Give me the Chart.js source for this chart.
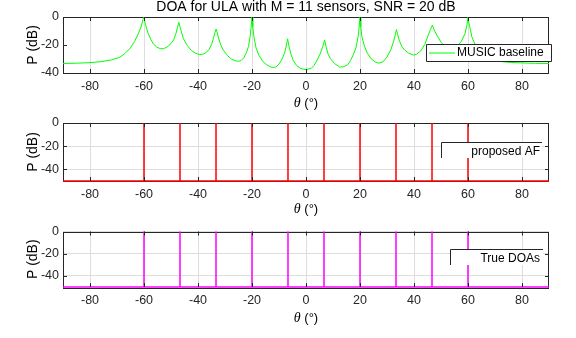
<!DOCTYPE html>
<html>
<head>
<meta charset="utf-8">
<script src="https://cdn.jsdelivr.net/npm/chart.js@4.4.1/dist/chart.umd.min.js"></script>
<style>
  html, body { margin: 0; padding: 0; background: #fff; }
  body { width: 576px; height: 338px; position: relative; overflow: hidden; }
  canvas { position: absolute; left: 0; }
</style>
</head>
<body>
<canvas id="c1" width="576" height="110" style="top:0px"></canvas>
<canvas id="c2" width="576" height="110" style="top:110px"></canvas>
<canvas id="c3" width="576" height="118" style="top:220px"></canvas>
<script>
// ---------------- data ----------------
const chartTitle = "DOA for ULA with M = 11 sensors, SNR = 20 dB";
const xTicks = [-80, -60, -40, -20, 0, 20, 40, 60, 80];
const yTicksMusic = [-40, -20, 0];
const yTicksAF = [-40, -20, 0];

// MUSIC baseline spectrum (angle in degrees, power in dB)
const thetaMusic = [-90,-85,-80,-76,-72,-69,-67,-65,-63.5,-62,-61,-60.4,-60,-59.6,-59,-58.4,-57.5,-56.5,-55.3,-54,-52.8,-51.5,-50,-49,-48.2,-47.6,-47.1,-46.6,-46,-45.4,-44,-42.5,-41,-39.5,-38,-37,-36,-35,-34.2,-33.7,-33.3,-32.9,-32.4,-31.5,-30.5,-29,-27.5,-26,-25,-24,-23,-22,-21.3,-20.7,-20.3,-20,-19.7,-19.3,-18.5,-17.5,-16,-14.5,-13,-12,-11,-10,-9,-8,-7.4,-6.8,-6.3,-5.5,-4.7,-3.5,-2,0,2,3,4,5.2,6.2,6.9,7.4,8.2,9,10.5,12.5,14,15.5,16.5,17.5,18.5,19.3,19.7,20,20.3,20.7,21.5,22.5,24,25.5,27,28.5,30,31.5,32.5,33.1,33.5,33.9,34.5,35.5,36.5,38,39.7,41,42.5,44,45.3,46.1,46.8,47.4,48.4,50,51.5,53,54.5,56,57.5,58.9,59.6,60,60.4,61,61.4,62.6,64,66,68,70,73,76,80,85,90];
const pMusic = [-33.2,-33.0,-32.6,-31.9,-30.6,-28.8,-26.0,-22.0,-17.5,-11.5,-6.5,-2.0,0,-4.0,-8.5,-12.0,-16.0,-19.3,-21.5,-22.6,-22.7,-21.5,-19.0,-16.3,-12.0,-7.5,-3.8,-7.5,-11.5,-15.5,-20.3,-23.8,-25.8,-26.8,-26.5,-25.4,-23.4,-19.8,-14.5,-11.0,-8.6,-11.0,-15.0,-20.3,-24.0,-27.7,-30.2,-31.4,-31.6,-31.0,-29.0,-25.2,-21.0,-14.0,-7.0,0,-7.0,-14.0,-22.0,-27.2,-31.7,-34.2,-35.8,-36.1,-35.6,-33.6,-30.6,-26.2,-21.5,-15.6,-21.0,-27.0,-31.2,-34.6,-36.8,-37.6,-36.6,-34.6,-31.2,-26.5,-21.2,-16.4,-21.0,-26.5,-29.6,-33.2,-35.8,-35.5,-34.0,-31.0,-27.0,-22.0,-14.0,-7.0,0,-7.0,-14.0,-20.0,-25.0,-29.6,-32.0,-33.0,-32.0,-28.6,-23.0,-17.0,-12.5,-9.0,-12.0,-16.5,-21.0,-23.5,-25.8,-27.2,-26.6,-24.2,-19.6,-12.8,-9.0,-5.8,-9.0,-12.8,-18.0,-21.0,-22.5,-22.6,-21.0,-17.5,-11.9,-6.0,0,-5.0,-10.0,-14.0,-19.6,-23.6,-27.2,-29.6,-31.0,-32.0,-32.5,-32.8,-33.1,-33.2];

// proposed AF estimates and true DOAs (degrees); spectrum floor in dB
const doaProposed = [-60, -46.67, -33.33, -20, -6.67, 6.67, 20, 33.33, 46.67, 60];
const doaTrue = [-60, -46.67, -33.33, -20, -6.67, 6.67, 20, 33.33, 46.67, 60];
const spikeTop = 0;
const spikeFloor = -50;

// ---------------- helpers ----------------
function spikeSeries(doas, top, floor) {
  const pts = [{x: -90, y: floor}];
  doas.forEach(d => { pts.push({x: d, y: floor}, {x: d, y: top}, {x: d, y: floor}); });
  pts.push({x: 90, y: floor});
  return pts;
}

const AXC = '#262626';
const SANS = '"Liberation Sans", Arial, Helvetica, sans-serif';

function decorPlugin(cfg) {
  return {
    id: 'decor',
    beforeDatasetsDraw(chart) {
      const ctx = chart.ctx, a = chart.chartArea;
      ctx.save();
      ctx.strokeStyle = AXC; ctx.lineWidth = 1;
      ctx.strokeRect(Math.round(a.left) + 0.5, Math.round(a.top) + 0.5,
                     Math.round(a.right - a.left) - 1, Math.round(a.bottom - a.top));
      ctx.restore();
    },
    afterDatasetsDraw(chart) {
      const ctx = chart.ctx, a = chart.chartArea;
      const xs = chart.scales.x, ys = chart.scales.y;
      ctx.save();
      // inward tick marks
      ctx.strokeStyle = AXC; ctx.lineWidth = 1;
      const tl = 4;
      ctx.beginPath();
      xTicks.forEach(v => {
        const px = Math.round(xs.getPixelForValue(v)) + 0.5;
        ctx.moveTo(px, a.bottom); ctx.lineTo(px, a.bottom - tl);
        ctx.moveTo(px, a.top); ctx.lineTo(px, a.top + tl);
      });
      cfg.yTicks.forEach(v => {
        const py = Math.round(ys.getPixelForValue(v)) + 0.5;
        ctx.moveTo(a.left, py); ctx.lineTo(a.left + tl, py);
        ctx.moveTo(a.right, py); ctx.lineTo(a.right - tl, py);
      });
      ctx.stroke();

      // legend box
      const L = cfg.legend;
      ctx.fillStyle = '#fff';
      ctx.fillRect(L.x0, L.y0, L.x1 - L.x0, L.y1 - L.y0);
      ctx.strokeStyle = AXC; ctx.lineWidth = 1;
      ctx.beginPath();
      if (L.full) {
        ctx.rect(L.x0 + 0.5, L.y0 + 0.5, L.x1 - L.x0, L.y1 - L.y0);
      } else {
        ctx.moveTo(L.x0 + 0.5, L.y1); ctx.lineTo(L.x0 + 0.5, L.y0 + 0.5); ctx.lineTo(L.x1, L.y0 + 0.5);
      }
      ctx.stroke();
      if (L.sample) {
        ctx.strokeStyle = L.sample; ctx.lineWidth = 1;
        ctx.beginPath();
        ctx.moveTo(L.sx0, L.ty + 0.5); ctx.lineTo(L.sx1, L.ty + 0.5);
        ctx.stroke();
      }
      ctx.fillStyle = '#000';
      ctx.font = '12px ' + SANS;
      ctx.textBaseline = 'middle';
      ctx.textAlign = L.align;
      ctx.fillText(L.text, L.tx, L.ty);

      // y-axis title
      ctx.save();
      ctx.translate(33, (a.top + a.bottom) / 2);
      ctx.rotate(-Math.PI / 2);
      ctx.font = '14px ' + SANS;
      ctx.textAlign = 'center'; ctx.textBaseline = 'middle';
      ctx.fillStyle = '#000';
      ctx.fillText('P (dB)', 0, 0);
      ctx.restore();

      // x-axis title: italic theta + (°)
      const ty = a.bottom + cfg.xTitleOffset;
      ctx.font = 'italic 14px "Liberation Serif", "Times New Roman", serif';
      const w1 = ctx.measureText('θ').width;
      ctx.font = '13px ' + SANS;
      const w2 = ctx.measureText(' (°)').width;
      const cx = (a.left + a.right) / 2;
      let sx = cx - (w1 + w2) / 2;
      ctx.textAlign = 'left'; ctx.textBaseline = 'middle'; ctx.fillStyle = '#000';
      ctx.font = 'italic 14px "Liberation Serif", "Times New Roman", serif';
      ctx.fillText('θ', sx, ty);
      ctx.font = '13px ' + SANS;
      ctx.fillText(' (°)', sx + w1, ty);

      // main title
      if (cfg.title) {
        ctx.font = '14px ' + SANS;
        ctx.textAlign = 'center'; ctx.textBaseline = 'middle';
        ctx.fillText(cfg.title, cx, 7);
      }
      ctx.restore();
    }
  };
}

function makeChart(id, cfg) {
  const H = cfg.height;
  new Chart(document.getElementById(id), {
    type: 'line',
    data: { datasets: cfg.datasets },
    options: {
      responsive: false,
      animation: false,
      devicePixelRatio: 1,
      layout: { padding: { left: 0, right: 27, top: cfg.top, bottom: 0 } },
      plugins: { legend: { display: false }, title: { display: false }, tooltip: { enabled: false } },
      elements: { point: { radius: 0 } },
      scales: {
        x: {
          type: 'linear', min: -90, max: 90,
          afterBuildTicks: s => { s.ticks = xTicks.map(v => ({ value: v })); },
          afterFit: s => { s.height = H - cfg.bottom; },
          border: { display: false },
          grid: { color: '#dedede', lineWidth: 1, drawTicks: false },
          ticks: { padding: 6, color: '#262626', font: { family: SANS, size: 12.5 }, maxRotation: 0, autoSkip: false }
        },
        y: {
          type: 'linear', min: cfg.yMin, max: cfg.yMax,
          afterBuildTicks: s => { s.ticks = cfg.yTicks.map(v => ({ value: v })); },
          afterFit: s => { s.width = 63; },
          border: { display: false },
          grid: { display: cfg.yGrid, color: '#dedede', lineWidth: 1, drawTicks: false },
          ticks: { padding: 4, color: '#262626', font: { family: SANS, size: 12.5 } }
        }
      }
    },
    plugins: [decorPlugin(cfg)]
  });
}

makeChart('c1', {
  height: 110, top: 17, bottom: 73, yMin: -40, yMax: 0, yTicks: yTicksMusic, yGrid: false,
  xTitleOffset: 30, title: chartTitle,
  datasets: [{
    label: 'MUSIC baseline',
    data: thetaMusic.map((t, i) => ({ x: t, y: pMusic[i] })),
    borderColor: '#00ff00', borderWidth: 1, tension: 0, clip: 2
  }],
  legend: { x0: 426, y0: 44, x1: 551, y1: 61, full: true, sample: '#00ff00', sx0: 429, sx1: 455,
            text: 'MUSIC baseline', tx: 457, ty: 52.5, align: 'left' }
});

makeChart('c2', {
  height: 110, top: 13, bottom: 71, yMin: -50, yMax: 0, yTicks: yTicksAF, yGrid: true,
  xTitleOffset: 28,
  datasets: [{
    label: 'proposed AF',
    data: spikeSeries(doaProposed, spikeTop, spikeFloor),
    borderColor: '#ff0000', borderWidth: 1.5, tension: 0, clip: false
  }],
  legend: { x0: 441, y0: 32, x1: 542, y1: 48, full: false, sample: null,
            text: 'proposed AF', tx: 540, ty: 42, align: 'right' }
});

makeChart('c3', {
  height: 118, top: 10, bottom: 67, yMin: -50, yMax: 0, yTicks: yTicksAF, yGrid: true,
  xTitleOffset: 31,
  datasets: [{
    label: 'True DOAs',
    data: spikeSeries(doaTrue, spikeTop, spikeFloor),
    borderColor: '#ff00ff', borderWidth: 1.5, tension: 0, clip: false
  }],
  legend: { x0: 450, y0: 29, x1: 543, y1: 45, full: false, sample: null,
            text: 'True DOAs', tx: 540, ty: 38.5, align: 'right' }
});
</script>
</body>
</html>
